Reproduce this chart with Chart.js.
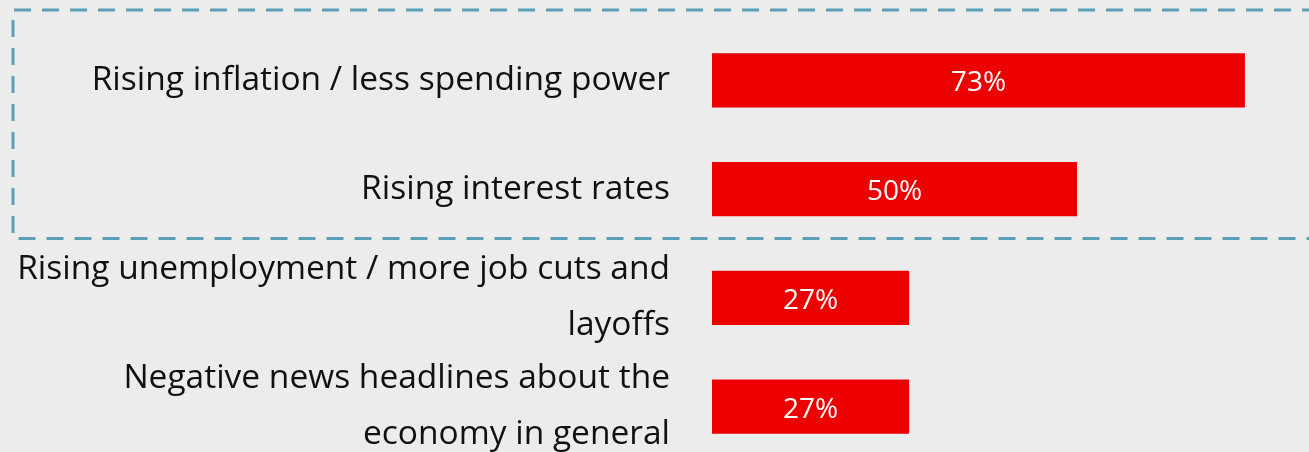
<!DOCTYPE html>
<html>
<head>
<meta charset="utf-8">
<script src="https://cdn.jsdelivr.net/npm/chart.js@4/dist/chart.umd.min.js"></script>
<style>
  html, body { margin: 0; padding: 0; background: #ececec; overflow: hidden; }
  #wrap { position: relative; width: 1309px; height: 480px; }
</style>
</head>
<body>
<div id="wrap"><canvas id="chart"></canvas></div>
<script>
const categories = [
  'Rising inflation / less spending power',
  'Rising interest rates',
  ['Rising unemployment / more job cuts and', 'layoffs'],
  ['Negative news headlines about the', 'economy in general']
];
const shares = [73, 50, 27, 27];
const barColor = '#ec0000';
const fontFamily = '"Open Sans", "DejaVu Sans", sans-serif';

// white percentage text in the middle of each bar
const barValues = {
  id: 'barValues',
  afterDatasetsDraw(chart) {
    const ctx = chart.ctx;
    const meta = chart.getDatasetMeta(0);
    ctx.save();
    ctx.fillStyle = '#ffffff';
    ctx.font = '28px ' + fontFamily;
    ctx.textAlign = 'center';
    ctx.textBaseline = 'middle';
    meta.data.forEach((bar, i) => {
      const mid = (bar.x + bar.base) / 2;
      ctx.fillText(shares[i] + '%', mid, bar.y + 3);
    });
    ctx.restore();
  }
};

// dashed frame around the first two categories
const highlightBox = {
  id: 'highlightBox',
  beforeDatasetsDraw(chart) {
    const { ctx, scales: { y } } = chart;
    const step = y.getPixelForValue(1) - y.getPixelForValue(0);
    const top = y.getPixelForValue(0) - step / 2 - 16;
    const bottom = y.getPixelForValue(1) + step / 2 - 5;
    ctx.save();
    ctx.strokeStyle = '#5c9fb9';
    ctx.lineWidth = 3;
    ctx.setLineDash([17, 11]);
    ctx.beginPath();
    ctx.moveTo(chart.width + 10, top);
    ctx.lineTo(13, top);
    ctx.lineTo(13, bottom);
    ctx.lineTo(chart.width + 10, bottom);
    ctx.stroke();
    ctx.restore();
  }
};

new Chart(document.getElementById('chart'), {
  type: 'bar',
  data: {
    labels: categories,
    datasets: [{
      data: shares,
      backgroundColor: barColor,
      borderWidth: 0,
      categoryPercentage: 1,
      barPercentage: 0.5
    }]
  },
  options: {
    indexAxis: 'y',
    responsive: true,
    maintainAspectRatio: false,
    animation: false,
    layout: { padding: { top: 26, bottom: 19, left: 0, right: 13 } },
    plugins: {
      legend: { display: false },
      tooltip: { enabled: false }
    },
    scales: {
      x: {
        display: false,
        min: 0,
        max: 80
      },
      y: {
        grid: { display: false, drawTicks: false },
        border: { display: false },
        afterFit(scale) {
          scale.width = 712;
          scale.paddingTop = 0;
          scale.paddingBottom = 0;
        },
        ticks: {
          autoSkip: false,
          color: '#111111',
          padding: 42,
          font: { family: fontFamily, size: 33.5, lineHeight: 1.67 }
        }
      }
    }
  },
  plugins: [highlightBox, barValues]
});
</script>
</body>
</html>
